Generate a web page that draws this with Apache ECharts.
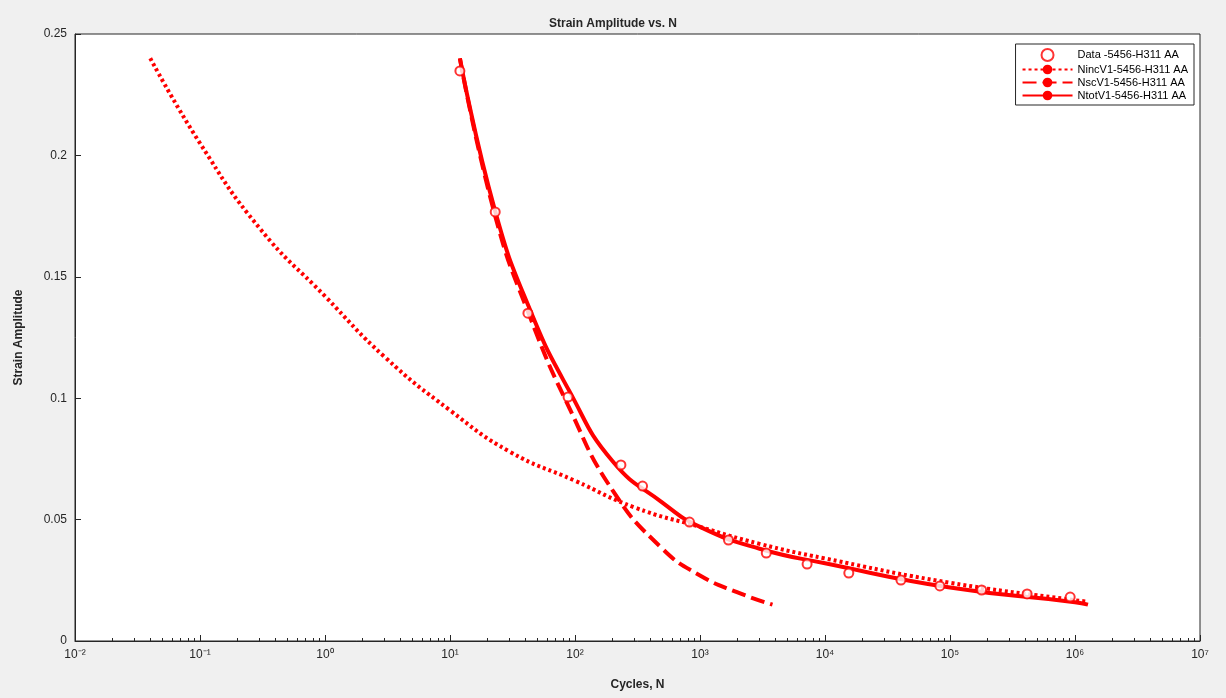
<!DOCTYPE html>
<html>
<head>
<meta charset="UTF-8">
<style>
  * { margin: 0; padding: 0; }
  body { background: #f0f0f0; }
  #chart { width: 1226px; height: 698px; }
</style>
</head>
<body>
<div id="chart"></div>
<script src="https://cdn.jsdelivr.net/npm/echarts@6/dist/echarts.min.js"></script>
<script>
  // measured points
  const dataN = [12, 23, 42, 88, 233, 347, 824, 1690, 3390, 7190, 15500, 40500, 83000, 179000, 414000, 915000]
  const dataS = [0.2348, 0.1767, 0.135, 0.1005, 0.0725, 0.0638, 0.049, 0.0416, 0.0362, 0.0317, 0.028, 0.0251, 0.0227, 0.021, 0.0194, 0.0181]

  // fitted curves
  const incN = [0.04, 0.1, 0.3, 1, 3, 10, 30, 100, 300, 1000, 3000, 10000, 100000, 1000000, 1270000]
  const incS = [0.24, 0.205, 0.17, 0.142, 0.117, 0.095, 0.078, 0.066, 0.055, 0.047, 0.04, 0.034, 0.024, 0.0168, 0.0162]
  const scN = [12, 23, 44, 90, 200, 500, 1000, 2000, 3800]
  const scS = [0.24, 0.175, 0.133, 0.096, 0.062, 0.038, 0.027, 0.02, 0.015]
  const totN = [12, 23, 44, 90, 200, 500, 1000, 3000, 10000, 100000, 1000000, 1270000]
  const totS = [0.24, 0.177, 0.136, 0.103, 0.074, 0.057, 0.047, 0.038, 0.032, 0.022, 0.016, 0.015]

  const zip = (a, b) => a.map((v, i) => [v, b[i]])
  const sup = { '-': '⁻', '0': '⁰', '1': '¹', '2': '²', '3': '³', '4': '⁴', '5': '⁵', '6': '⁶', '7': '⁷', '8': '⁸', '9': '⁹' }

  const chart = echarts.init(document.getElementById('chart'))
  chart.setOption({
    animation: false,
    backgroundColor: '#f0f0f0',
    textStyle: { fontFamily: 'Arial, Liberation Sans, sans-serif' },
    title: {
      text: 'Strain Amplitude vs. N', left: 'center', top: 13,
      textStyle: { fontSize: 12, fontWeight: 'bold', color: '#262626' }
    },
    grid: { left: 75, right: 26, top: 34, bottom: 57, show: true, backgroundColor: '#fff', borderColor: '#262626', borderWidth: 1 },
    legend: {
      right: 32, top: 44, orient: 'vertical', itemGap: 2, itemWidth: 50, itemHeight: 12,
      backgroundColor: '#fff', borderColor: '#262626', borderWidth: 1, padding: [4, 6],
      textStyle: { fontSize: 11, color: '#000' },
      data: ['Data -5456-H311 AA', 'NincV1-5456-H311 AA', 'NscV1-5456-H311 AA', 'NtotV1-5456-H311 AA']
    },
    xAxis: {
      type: 'log', logBase: 10, min: 0.01, max: 1e7,
      name: 'Cycles, N', nameLocation: 'middle', nameGap: 38,
      nameTextStyle: { fontSize: 12, fontWeight: 'bold', color: '#262626' },
      axisLine: { onZero: false, lineStyle: { color: '#262626' } },
      axisTick: { inside: true, length: 6, lineStyle: { color: '#262626' } },
      minorTick: { show: true, splitNumber: 9, length: 3 },
      splitLine: { show: false },
      axisLabel: {
        color: '#262626', fontSize: 12,
        formatter: v => '10' + String(Math.round(Math.log10(v))).split('').map(c => sup[c]).join('')
      }
    },
    yAxis: {
      type: 'value', min: 0, max: 0.25, interval: 0.05,
      name: 'Strain Amplitude', nameLocation: 'middle', nameGap: 50,
      nameTextStyle: { fontSize: 12, fontWeight: 'bold', color: '#262626' },
      axisLine: { show: true, lineStyle: { color: '#262626' } },
      axisTick: { inside: true, length: 6, lineStyle: { color: '#262626' } },
      splitLine: { show: false },
      axisLabel: { color: '#262626', fontSize: 12, formatter: v => String(+v.toFixed(2)) }
    },
    series: [
      {
        name: 'Data -5456-H311 AA', type: 'scatter', symbol: 'emptyCircle', symbolSize: 9,
        itemStyle: { color: '#ff0000', borderColor: '#ff0000', borderWidth: 1 },
        data: zip(dataN, dataS), z: 5
      },
      {
        name: 'NincV1-5456-H311 AA', type: 'line', smooth: true, showSymbol: false, symbol: 'none',
        lineStyle: { color: '#ff0000', width: 4, type: [3, 3] }, itemStyle: { color: '#ff0000' },
        data: zip(incN, incS)
      },
      {
        name: 'NscV1-5456-H311 AA', type: 'line', smooth: true, showSymbol: false, symbol: 'none',
        lineStyle: { color: '#ff0000', width: 4, type: [14, 6] }, itemStyle: { color: '#ff0000' },
        data: zip(scN, scS)
      },
      {
        name: 'NtotV1-5456-H311 AA', type: 'line', smooth: true, showSymbol: false, symbol: 'none',
        lineStyle: { color: '#ff0000', width: 4 }, itemStyle: { color: '#ff0000' },
        data: zip(totN, totS)
      }
    ]
  })
</script>
</body>
</html>
